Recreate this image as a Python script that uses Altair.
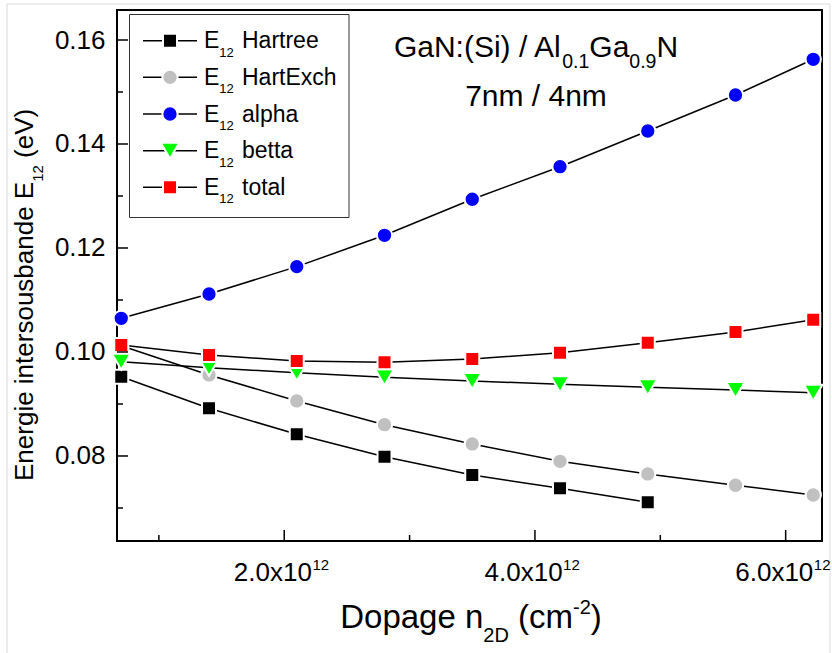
import altair as alt
import pandas as pd

# ---------------- data ----------------
dopage = [0.7, 1.4, 2.1, 2.8, 3.5, 4.2, 4.9, 5.6, 6.22]   # n2D in 10^12 cm^-2
x_exponent = 12
e_hartree = [0.09525, 0.08917, 0.08417, 0.07987, 0.07635, 0.07379, 0.07109]
e_hartexch = [0.1012, 0.09558, 0.09058, 0.08602, 0.08231, 0.07898, 0.07654, 0.07437, 0.0725]
e_alpha = [0.10648, 0.11115, 0.11641, 0.12244, 0.12937, 0.13563, 0.1425, 0.14942, 0.15629]
e_betta = [0.09813, 0.09698, 0.0960, 0.09513, 0.09442, 0.09379, 0.09321, 0.09269, 0.09217]
e_total = [0.10135, 0.09942, 0.09827, 0.09802, 0.09865, 0.09987, 0.10179, 0.10385, 0.10621]

series_names = ["Hartree", "HartExch", "alpha", "betta", "total"]
series_values = [e_hartree, e_hartexch, e_alpha, e_betta, e_total]
series_colors = ["#000000", "#c0c0c0", "#0000ff", "#00ff00", "#ff0000"]
series_shapes = ["square", "circle", "circle", "triangle-down", "square"]

x_major = [2.0, 4.0, 6.0]
x_minor = [1.0, 3.0, 5.0]
y_major = [0.08, 0.10, 0.12, 0.14, 0.16]
y_minor = [0.07, 0.09, 0.11, 0.13, 0.15]
x_domain = [0.666, 6.29]
y_domain = [0.06365, 0.16577]

# ---------------- layout / style ----------------
W, H = 705, 531
FONT = "Liberation Sans"
SIZES = {"square": 196, "circle": 234, "triangle-down": 342}

AW = {' ': 278, '!': 278, '(': 333, ')': 333, '-': 333, '.': 278, '/': 278, ':': 278,
      'A': 667, 'D': 722, 'E': 667, 'G': 778, 'H': 722, 'N': 722, 'S': 667, 'V': 667,
      'a': 556, 'b': 556, 'c': 500, 'd': 556, 'e': 556, 'g': 556, 'h': 556, 'i': 222,
      'l': 222, 'm': 833, 'n': 556, 'o': 556, 'p': 556, 'r': 333, 's': 500, 't': 278,
      'u': 556, 'x': 500}
for dgt in "0123456789":
    AW[dgt] = 556


def tw(s, fs):
    return sum(AW.get(c, 556) for c in s) * fs / 1000.0


one = pd.DataFrame({"k": [0]})


def txt(s, x, y, fs, angle=0, align="left"):
    props = dict(text=s, font=FONT, fontSize=fs, align=align, baseline="alphabetic", color="black")
    if angle:
        props["angle"] = angle
    return alt.Chart(one).mark_text(**props).encode(x=alt.value(x), y=alt.value(y))


def run(pieces, x0, y_main, shift):
    """Horizontal run of text pieces (main / sub / sup)."""
    out = []
    x = x0
    for s, fs, kind in pieces:
        lead = len(s) - len(s.lstrip(" "))
        x += tw(" " * lead, fs)
        core = s.strip(" ")
        out.append(txt(core, x, y_main + shift[kind], fs))
        x += tw(core, fs) + tw(" " * (len(s) - lead - len(core)), fs)
    return out


xs = alt.Scale(domain=x_domain, nice=False, zero=False)
ys = alt.Scale(domain=y_domain, nice=False, zero=False)
X_AX = alt.Axis(labels=False, ticks=False, domain=False, grid=False, title=None)
Y_AX = alt.Axis(values=y_major, format=".2f", ticks=False, domain=False, grid=False,
                title=None, labelFont=FONT, labelFontSize=26, labelColor="black",
                labelPadding=12)

layers = []

# faint outer border of the picture
layers.append(alt.Chart(one).mark_rect(fillOpacity=0, stroke="#d9d9d9", strokeWidth=1).encode(
    x=alt.value(-110), x2=alt.value(713), y=alt.value(-6), y2=alt.value(660)))

# series
for name, vals, col, shp in zip(series_names, series_values, series_colors, series_shapes):
    df = pd.DataFrame({"n2d": dopage[:len(vals)], "E": vals})
    base = alt.Chart(df).encode(x=alt.X("n2d:Q", scale=xs, axis=X_AX),
                                y=alt.Y("E:Q", scale=ys, axis=Y_AX))
    layers.append(base.mark_line(color="black", strokeWidth=1.5))
    layers.append(base.mark_point(shape=shp, size=SIZES[shp], filled=True, fill=col,
                                  fillOpacity=1, stroke="white", strokeWidth=2,
                                  strokeOpacity=1, opacity=1))

# inward ticks
for vals, ln in [(y_major, 11), (y_minor, 6)]:
    layers.append(alt.Chart(pd.DataFrame({"v": vals})).mark_rule(color="black", strokeWidth=1.5).encode(
        y=alt.Y("v:Q", scale=ys, axis=Y_AX), x=alt.value(0), x2=alt.value(ln)))
for vals, ln in [(x_major, 11), (x_minor, 6)]:
    layers.append(alt.Chart(pd.DataFrame({"v": vals})).mark_rule(color="black", strokeWidth=1.5).encode(
        x=alt.X("v:Q", scale=xs, axis=X_AX), y=alt.value(H), y2=alt.value(H - ln)))

# x tick labels  "2.0x10^12"
XF, XS = 26, 15
w_main = tw("2.0x10", XF)
w_sup = tw(str(x_exponent), XS)
dxl = (w_main - w_sup) / 2.0 - 3
xl = pd.DataFrame({"v": x_major})
layers.append(alt.Chart(xl).transform_calculate(t="format(datum.v, '.1f') + 'x10'").mark_text(
    font=FONT, fontSize=XF, align="right", baseline="alphabetic", dx=dxl, color="black").encode(
    x=alt.X("v:Q", scale=xs, axis=X_AX), y=alt.value(H + 39.7), text="t:N"))
layers.append(alt.Chart(xl).mark_text(
    text=str(x_exponent), font=FONT, fontSize=XS, align="left", baseline="alphabetic", dx=dxl + 0.5,
    color="black").encode(x=alt.X("v:Q", scale=xs, axis=X_AX), y=alt.value(H + 28.5)))

# x title  "Dopage n_2D (cm^-2)"
TF, TS = 33, 20
xt = [("Dopage n", TF, "main"), ("2D", TS, "sub"), (" (cm", TF, "main"), ("-2", TS, "sup"), (")", TF, "main")]
tot = sum(tw(s, f) for s, f, _ in xt)
layers += run(xt, 354 - tot / 2.0, 618, {"main": 0, "sub": 14, "sup": -14})

# y title "Energie intersousbande E_12 (eV)" rotated
YF, YS = 26, 15
y0 = 471
p1 = "Energie intersousbande E"
layers.append(txt(p1, -83.7, y0, YF, angle=270))
y1 = y0 - tw(p1, YF)
layers.append(txt("12", -73.7, y1, YS, angle=270))
y2 = y1 - tw("12", YS) - tw(" ", YF)
layers.append(txt("(eV)", -83.7, y2, YF, angle=270))

# annotation
AF, AS = 30, 19.5
an = [("GaN:(Si) / Al", AF, "main"), ("0.1", AS, "sub"), ("Ga", AF, "main"), ("0.9", AS, "sub"), ("N", AF, "main")]
tot = sum(tw(s, f) for s, f, _ in an)
layers += run(an, 419 - tot / 2.0, 46.7, {"main": 0, "sub": 11.6, "sup": 0})
layers.append(txt("7nm / 4nm", 419, 96, AF, align="center"))

# legend
layers.append(alt.Chart(one).mark_rect(fill="white", stroke="#333333", strokeWidth=1).encode(
    x=alt.value(12.5), x2=alt.value(232), y=alt.value(4.5), y2=alt.value(207.5)))
LF, LS = 23, 13
for i, (name, col, shp) in enumerate(zip(series_names, series_colors, series_shapes)):
    cy = 30.7 + i * 36.65
    layers.append(alt.Chart(one).mark_rule(color="black", strokeWidth=1.5).encode(
        x=alt.value(26), x2=alt.value(80), y=alt.value(cy)))
    layers.append(alt.Chart(one).mark_point(shape=shp, size=SIZES[shp], filled=True, fill=col,
                                            fillOpacity=1, stroke="white", strokeWidth=2,
                                            strokeOpacity=1, opacity=1).encode(
        x=alt.value(53), y=alt.value(cy)))
    layers.append(txt("E", 87, cy + 7.6, LF))
    layers.append(txt("12", 87 + tw("E", LF), cy + 16, LS))
    layers.append(txt(name, 125, cy + 7.6, LF))

chart = alt.layer(*layers).properties(
    width=W, height=H,
    padding={"left": 117, "top": 10, "right": 10, "bottom": 112},
    autosize=alt.AutoSizeParams(type="none"),
    background="white",
).configure_view(stroke="black", strokeWidth=2)

chart.save("out.html", embed_options={"renderer": "svg", "actions": False})
